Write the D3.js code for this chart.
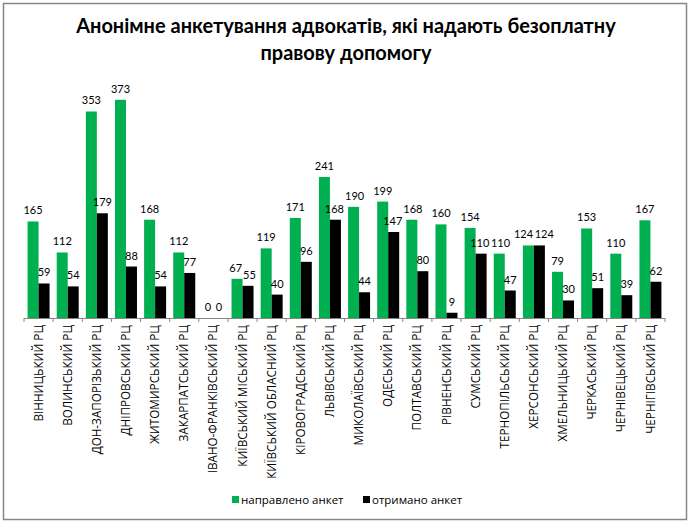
<!DOCTYPE html>
<html>
<head>
<meta charset="utf-8">
<script src="https://cdn.jsdelivr.net/npm/d3@7"></script>
<style>
  body { margin: 0; background: #fff; }
</style>
</head>
<body>
<div id="container"></div>
<script>
const categories = [
    "ВІННИЦЬКИЙ РЦ", "ВОЛИНСЬКИЙ РЦ", "ДОН-ЗАПОРІЗЬКИЙ РЦ", "ДНІПРОВСЬКИЙ РЦ",
    "ЖИТОМИРСЬКИЙ РЦ", "ЗАКАРПАТСЬКИЙ РЦ", "ІВАНО-ФРАНКІВСЬКИЙ РЦ", "КИЇВСЬКИЙ МІСЬКИЙ РЦ",
    "КИЇВСЬКИЙ ОБЛАСНИЙ РЦ", "КІРОВОГРАДСЬКИЙ РЦ", "ЛЬВІВСЬКИЙ РЦ", "МИКОЛАЇВСЬКИЙ РЦ",
    "ОДЕСЬКИЙ РЦ", "ПОЛТАВСЬКИЙ РЦ", "РІВНЕНСЬКИЙ РЦ", "СУМСЬКИЙ РЦ",
    "ТЕРНОПІЛЬСЬКИЙ РЦ", "ХЕРСОНСЬКИЙ РЦ", "ХМЕЛЬНИЦЬКИЙ РЦ", "ЧЕРКАСЬКИЙ РЦ",
    "ЧЕРНІВЕЦЬКИЙ РЦ", "ЧЕРНІГІВСЬКИЙ РЦ"
];
const sent = [165, 112, 353, 373, 168, 112, 0, 67, 119, 171, 241, 190, 199, 168, 160, 154, 110, 124, 79, 153, 110, 167];
const received = [59, 54, 179, 88, 54, 77, 0, 55, 40, 96, 168, 44, 147, 80, 9, 110, 47, 124, 30, 51, 39, 62];
const seriesNames = ["направлено анкет", "отримано анкет"];
const seriesColors = ["#00b050", "#000000"];
const titleLines = ["Анонімне анкетування адвокатів, які надають безоплатну", "правову допомогу"];

const config = {
    width: 691,
    height: 524,
    plotLeft: 24,
    plotRight: 665,
    baseline: 318,
    yMax: 400,
    plotTop: 84,
}

const rows = categories.map((c, i) => ({category: c, values: [sent[i], received[i]]}));

const svg = d3.select('#container')
    .append('svg')
    .attr('width', config.width)
    .attr('height', config.height)
    .style('font-family', 'Lato, sans-serif');

// chart area border
svg.append('rect')
    .attr('x', 3.5)
    .attr('y', 3.5)
    .attr('width', 683)
    .attr('height', 516)
    .attr('fill', 'white')
    .attr('stroke', '#868686')
    .attr('stroke-width', 1.5);

// title, fitted to the width it takes in the picture
const title = svg.append('g').attr('class', 'title');
title.selectAll('text')
    .data(titleLines)
    .join('text')
    .attr('text-anchor', 'middle')
    .attr('x', 346)
    .attr('y', (_, i) => 33 + i * 27)
    .style('font-size', '20px')
    .style('font-weight', 'bold')
    .style('fill', '#000')
    .text(d => d);
const firstLine = title.select('text').node();
const fitSize = 20 * 540 / firstLine.getComputedTextLength();
title.selectAll('text').style('font-size', `${fitSize}px`);

const xScale = d3.scaleBand()
    .domain(categories)
    .range([config.plotLeft, config.plotRight])
    .paddingInner(0.245)
    .paddingOuter(0.1225);

const xSub = d3.scaleBand()
    .domain([0, 1])
    .range([0, xScale.bandwidth()]);

const yScale = d3.scaleLinear()
    .domain([0, config.yMax])
    .range([config.baseline, config.plotTop]);

const bars = svg.append('g').attr('class', 'bars');
const groups = bars.selectAll('g')
    .data(rows)
    .join('g')
    .attr('transform', d => `translate(${xScale(d.category)},0)`);

groups.selectAll('rect')
    .data(d => d.values)
    .join('rect')
    .attr('x', (_, i) => xSub(i))
    .attr('y', d => yScale(d))
    .attr('width', xSub.bandwidth())
    .attr('height', d => yScale(0) - yScale(d))
    .attr('fill', (_, i) => seriesColors[i]);

// data labels, one per bar
const labelData = rows.flatMap(r => r.values.map((v, i) => ({
    value: v,
    x: xScale(r.category) + xSub(i) + xSub.bandwidth() / 2,
    y: yScale(v) - 7,
})));

const labels = svg.append('g').attr('class', 'labels')
    .selectAll('text')
    .data(labelData)
    .join('text')
    .attr('x', d => d.x)
    .attr('y', d => d.y)
    .attr('text-anchor', 'middle')
    .style('font-size', '11px')
    .style('fill', '#000')
    .text(d => d.value);

// push apart labels that collide, left to right
const nodes = labels.nodes();
for (let k = 1; k < nodes.length; k++) {
    const a = nodes[k - 1].getBBox();
    const b = nodes[k].getBBox();
    const vertical = Math.min(a.y + a.height, b.y + b.height) - Math.max(a.y, b.y);
    const overlap = a.x + a.width - b.x + 1;
    if (vertical > 0 && overlap > 0) {
        const da = labelData[k - 1];
        const db = labelData[k];
        da.x -= overlap / 2;
        db.x += overlap / 2;
        d3.select(nodes[k - 1]).attr('x', da.x);
        d3.select(nodes[k]).attr('x', db.x);
    }
}

// category axis: ticks on the band boundaries
const axis = svg.append('g').attr('class', 'x-axis');
axis.append('line')
    .attr('x1', config.plotLeft)
    .attr('x2', config.plotRight)
    .attr('y1', config.baseline + 0.5)
    .attr('y2', config.baseline + 0.5)
    .attr('stroke', '#868686');

const step = xScale.step();
const boundaries = d3.range(categories.length + 1).map(i => config.plotLeft + i * step);
axis.selectAll('.tick')
    .data(boundaries)
    .join('line')
    .attr('class', 'tick')
    .attr('x1', d => d)
    .attr('x2', d => d)
    .attr('y1', config.baseline)
    .attr('y2', config.baseline + 4)
    .attr('stroke', '#868686');

axis.selectAll('text')
    .data(categories)
    .join('text')
    .attr('transform', d => `translate(${xScale(d) + xScale.bandwidth() / 2},${config.baseline + 7}) rotate(-90)`)
    .attr('text-anchor', 'end')
    .attr('dy', '0.35em')
    .style('font-family', '"Open Sans", sans-serif')
    .style('font-size', '11.7px')
    .style('fill', '#000')
    .text(d => d);

// legend
const legend = svg.append('g').attr('class', 'legend');
const legendX = [232, 363];
legend.selectAll('rect')
    .data(seriesNames)
    .join('rect')
    .attr('x', (_, i) => legendX[i])
    .attr('y', 496)
    .attr('width', 7)
    .attr('height', 7)
    .attr('fill', (_, i) => seriesColors[i]);

legend.selectAll('text')
    .data(seriesNames)
    .join('text')
    .attr('x', (_, i) => legendX[i] + 9)
    .attr('y', 504)
    .style('font-family', '"Open Sans", sans-serif')
    .style('font-size', '11.5px')
    .style('fill', '#000')
    .text(d => d);
</script>
</body>
</html>
